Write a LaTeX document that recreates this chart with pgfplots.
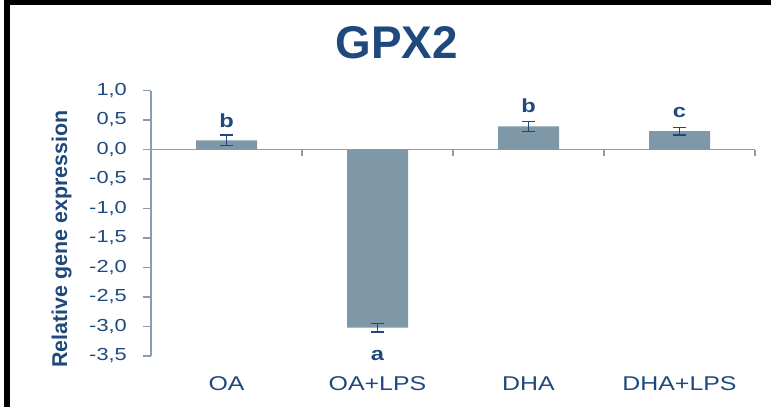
\documentclass[border=0pt]{standalone}
\usepackage{fontspec}
\setmainfont{Liberation Sans}
\newfontfamily\widesans[FakeStretch=1.25]{Liberation Sans}
\usepackage{pgfplots}
\pgfplotsset{compat=1.18}

\definecolor{txtblue}{RGB}{31,73,125}
\definecolor{barfill}{RGB}{127,152,168}
\definecolor{axisline}{RGB}{140,155,180}

% both axes share the same frame
\pgfplotsset{
  gpxframe/.style={
    scale only axis, width=604bp, height=265.5bp,
    at={(151bp,-356bp)}, anchor=south west,
    xmin=-0.5, xmax=3.5, ymin=-3.5, ymax=1.0,
  }
}

\begin{document}
\begin{tikzpicture}
\useasboundingbox (0,0) rectangle (771bp,-407bp);
\draw[line width=5.5bp] (7.2bp,-407bp) -- (7.2bp,-2.6bp) -- (771bp,-2.6bp);

% zero line with the category separators
\begin{axis}[gpxframe,
  axis x line*=middle, axis y line=none,
  xtick={0.5,1.5,2.5,3.5}, xticklabels={}, ytick=\empty,
  tick align=outside, major tick length=6bp,
  x axis line style={draw=axisline, line width=1.3bp},
  x tick style={draw=axisline, line width=1.3bp},
]
\end{axis}

\begin{axis}[gpxframe,
  clip=false,
  axis y line*=left, axis x line*=bottom,
  x axis line style={draw=none},
  y axis line style={draw=axisline, line width=1.3bp},
  xtick={0,1,2,3}, xticklabels={OA, OA+LPS, DHA, DHA+LPS},
  x tick style={draw=none},
  ytick={-3.5,-3,-2.5,-2,-1.5,-1,-0.5,0,0.5,1},
  y tick style={draw=axisline, line width=1.3bp},
  tick align=outside, major tick length=8bp,
  yticklabel style={/pgf/number format/.cd, fixed, fixed zerofill, precision=1,
    use comma, assume math mode=true, /tikz/.cd,
    font=\widesans\fontsize{17.5}{19}\selectfont, text=txtblue,
    inner sep=0pt, xshift=-16bp},
  xticklabel style={font=\widesans\fontsize{20}{22}\selectfont, text=txtblue,
    anchor=north, inner sep=0pt, yshift=-12.5bp},
  ylabel={Relative gene expression},
  ylabel style={at={(axis description cs:-0.148,0.44)}, anchor=center,
    font=\bfseries\fontsize{21.5}{23}\selectfont, text=txtblue},
  title={GPX2},
  title style={at={(axis description cs:0.4065,1.097)}, anchor=base,
    font=\bfseries\fontsize{46}{50}\selectfont, text=txtblue},
]
\addplot[ybar, bar width=61bp, fill=barfill, draw=none,
  error bars/.cd, y dir=both, y explicit,
  error bar style={line width=1.5bp, draw=txtblue},
  error mark options={rotate=90, mark size=6.5bp, line width=1.5bp, draw=txtblue}]
  coordinates {(0,0.155) +- (0,0.09) (1,-3.02) +- (0,0.07) (2,0.39) +- (0,0.085) (3,0.31) +- (0,0.06)};
% significance letters
\addplot[draw=none, mark=none, nodes near coords, point meta=explicit symbolic,
  every node near coord/.append style={anchor=base, inner sep=0pt, text=txtblue,
    font=\widesans\bfseries\fontsize{19}{21}\selectfont}]
  coordinates {(0,0.38)[b] (1,-3.57)[a] (2,0.62)[b] (3,0.55)[c]};
\end{axis}
\end{tikzpicture}
\end{document}
